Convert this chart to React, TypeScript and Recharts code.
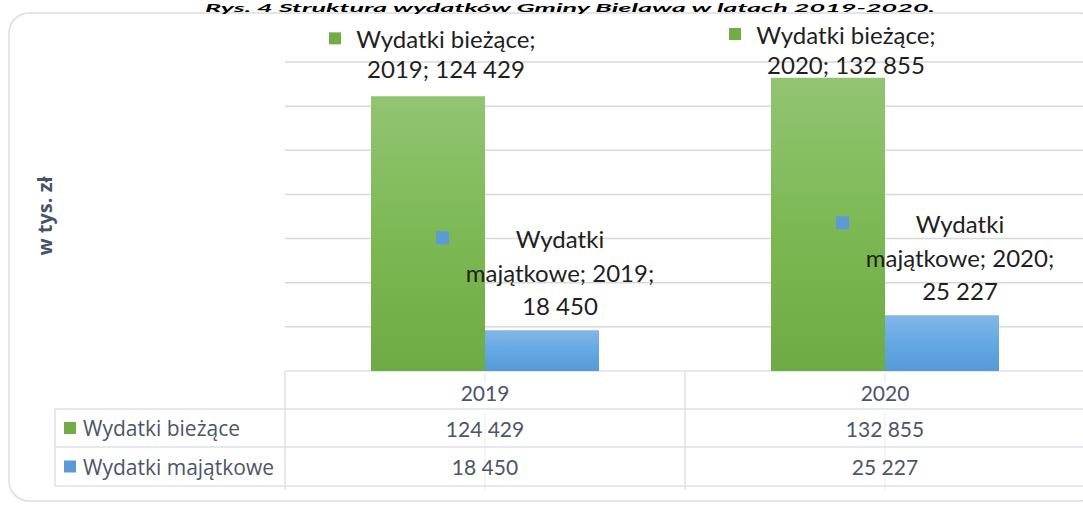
import React from "react";
import { BarChart, Bar, XAxis, YAxis, CartesianGrid, LabelList } from "recharts";

const title = "Rys. 4 Struktura wydatków Gminy Bielawa w latach 2019-2020.";
const axisTitle = "w tys. zł";
const years = ["2019", "2020"];
const seriesNames = ["Wydatki bieżące", "Wydatki majątkowe"];
const wydatkiBiezace = [124429, 132855];
const wydatkiMajatkowe = [18450, 25227];
const yTicks = [0, 20000, 40000, 60000, 80000, 100000, 120000, 140000];

const GREEN = "#70ad47";
const BLUE = "#5b9bd5";
const TEXT = "#1f1f1f";
const TABLE_TEXT = "#4a5669";
const LINE = "#dde2e8";
const FONT = "Lato, 'Open Sans', sans-serif";

const data = years.map((year, i) => ({
  year,
  biezace: wydatkiBiezace[i],
  majatkowe: wydatkiMajatkowe[i],
}));

const fmt = (v: number) => String(v).replace(/\B(?=(\d{3})+(?!\d))/g, " ");

// layout of the plot / data table
const W = 1100;
const H = 506;
const PLOT_LEFT = 285;
const PLOT_RIGHT = 1085;
const PLOT_TOP = 62;
const PLOT_BOTTOM = 371;
const ROW1 = 409;
const ROW2 = 447;
const ROW3 = 486;
const TABLE_LEFT = 55;

const GreenLabel = (props: any) => {
  const { x, y, width, index } = props;
  const cx = Number(x) + Number(width) / 2 + 18;
  const l2 = Math.max(Number(y) - 28, 64);
  const l1 = l2 - 30;
  return (
    <g fontFamily={FONT} fontSize={24} fill={TEXT}>
      <rect x={cx - 117} y={l1 - 6} width={12} height={12} fill={GREEN} />
      <text x={cx} y={l1} textAnchor="middle" dominantBaseline="central">
        {seriesNames[0]};
      </text>
      <text x={cx} y={l2} textAnchor="middle" dominantBaseline="central">
        {years[index]}; {fmt(wydatkiBiezace[index])}
      </text>
    </g>
  );
};

const BlueLabel = (props: any) => {
  const { x, y, width, index } = props;
  const cx = Number(x) + Number(width) / 2 + 18;
  const l3 = Number(y) - 25;
  const l2 = l3 - 33;
  const l1 = l2 - 34;
  const [w1, w2] = seriesNames[1].split(" ");
  return (
    <g fontFamily={FONT} fontSize={24} fill={TEXT}>
      <rect x={cx - 124} y={l1 - 7} width={13} height={13} fill={BLUE} />
      <text x={cx} y={l1} textAnchor="middle" dominantBaseline="central">
        {w1}
      </text>
      <text x={cx} y={l2} textAnchor="middle" dominantBaseline="central">
        {w2}; {years[index]};
      </text>
      <text x={cx} y={l3} textAnchor="middle" dominantBaseline="central">
        {fmt(wydatkiMajatkowe[index])}
      </text>
    </g>
  );
};

const TableTick = (props: any) => {
  const { x, y, payload } = props;
  const i = payload.index;
  return (
    <g fontFamily={FONT} fontSize={21} fill={TABLE_TEXT}>
      <line x1={x} x2={x} y1={y} y2={y + 9} stroke={LINE} />
      <line x1={x} x2={x} y1={ROW1 + 4} y2={ROW3 + 4} stroke={LINE} strokeOpacity={0.7} />
      <text x={x} y={(PLOT_BOTTOM + ROW1) / 2 + 2} textAnchor="middle" dominantBaseline="central">
        {payload.value}
      </text>
      <text x={x} y={(ROW1 + ROW2) / 2} textAnchor="middle" dominantBaseline="central">
        {fmt(wydatkiBiezace[i])}
      </text>
      <text x={x} y={(ROW2 + ROW3) / 2} textAnchor="middle" dominantBaseline="central">
        {fmt(wydatkiMajatkowe[i])}
      </text>
    </g>
  );
};

export default function App() {
  const catW = (PLOT_RIGHT - PLOT_LEFT) / years.length;
  return (
    <div
      style={{
        position: "fixed",
        left: 0,
        top: 0,
        width: 1083,
        height: 506,
        overflow: "hidden",
        background: "#fff",
      }}
    >
      <svg width={W} height={H} style={{ position: "absolute", left: 0, top: 0 }}>
        <rect x={9} y={13} width={1090} height={488} rx={20} ry={20} fill="#fff" stroke="#d9dde3" strokeWidth={1.5} />
        <text
          x={570}
          y={12}
          textAnchor="middle"
          fontFamily={FONT}
          fontWeight="bold"
          fontStyle="italic"
          fontSize={12}
          textLength={730}
          lengthAdjust="spacingAndGlyphs"
          fill="#000"
        >
          {title}
        </text>
        <text
          x={44}
          y={216}
          transform="rotate(-90 44 216)"
          textAnchor="middle"
          dominantBaseline="central"
          fontFamily="'Open Sans', sans-serif"
          fontWeight="bold"
          fontSize={20}
          fill="#44546a"
        >
          {axisTitle}
        </text>
        {/* data table grid */}
        <g stroke={LINE} strokeWidth={1.5}>
          <line x1={PLOT_LEFT} x2={W} y1={PLOT_BOTTOM} y2={PLOT_BOTTOM} />
          <line x1={TABLE_LEFT} x2={W} y1={ROW1} y2={ROW1} />
          <line x1={TABLE_LEFT} x2={W} y1={ROW2} y2={ROW2} />
          <line x1={TABLE_LEFT} x2={W} y1={ROW3} y2={ROW3} />
          <line x1={TABLE_LEFT} x2={TABLE_LEFT} y1={ROW1} y2={ROW3} />
          {years.map((_, i) => (
            <line key={i} x1={PLOT_LEFT + catW * i} x2={PLOT_LEFT + catW * i} y1={PLOT_BOTTOM} y2={ROW3 + 4} />
          ))}
        </g>
        <g fontFamily="'Open Sans', sans-serif" fontSize={21} fill={TABLE_TEXT}>
          <rect x={64} y={(ROW1 + ROW2) / 2 - 6} width={12} height={12} fill={GREEN} />
          <text x={83} y={(ROW1 + ROW2) / 2} dominantBaseline="central">
            {seriesNames[0]}
          </text>
          <rect x={64} y={(ROW2 + ROW3) / 2 - 6} width={12} height={12} fill={BLUE} />
          <text x={83} y={(ROW2 + ROW3) / 2} dominantBaseline="central">
            {seriesNames[1]}
          </text>
        </g>
      </svg>
      <div style={{ position: "absolute", left: 0, top: 0 }}>
        <BarChart
          width={W}
          height={H}
          data={data}
          margin={{ top: PLOT_TOP, right: W - PLOT_RIGHT, left: PLOT_LEFT, bottom: 0 }}
          barGap={0}
        >
          <defs>
            <linearGradient id="gGreen" x1="0" y1="0" x2="0" y2="1">
              <stop offset="0%" stopColor="#93c472" />
              <stop offset="50%" stopColor="#7cb954" />
              <stop offset="100%" stopColor="#6eab44" />
            </linearGradient>
            <linearGradient id="gBlue" x1="0" y1="0" x2="0" y2="1">
              <stop offset="0%" stopColor="#82b6e8" />
              <stop offset="50%" stopColor="#64a8e4" />
              <stop offset="100%" stopColor="#5599d6" />
            </linearGradient>
          </defs>
          <CartesianGrid vertical={false} stroke="#d9d9d9" strokeWidth={1.5} horizontalValues={yTicks.slice(1)} />
          <YAxis hide domain={[0, 140000]} ticks={yTicks} />
          <XAxis
            dataKey="year"
            height={H - PLOT_BOTTOM}
            axisLine={false}
            tickLine={false}
            tickSize={0}
            tick={<TableTick />}
            interval={0}
          />
          <Bar dataKey="biezace" name={seriesNames[0]} fill="url(#gGreen)" barSize={114} isAnimationActive={false}>
            <LabelList dataKey="biezace" content={<GreenLabel />} />
          </Bar>
          <Bar dataKey="majatkowe" name={seriesNames[1]} fill="url(#gBlue)" barSize={114} isAnimationActive={false}>
            <LabelList dataKey="majatkowe" content={<BlueLabel />} />
          </Bar>
        </BarChart>
      </div>
    </div>
  );
}
